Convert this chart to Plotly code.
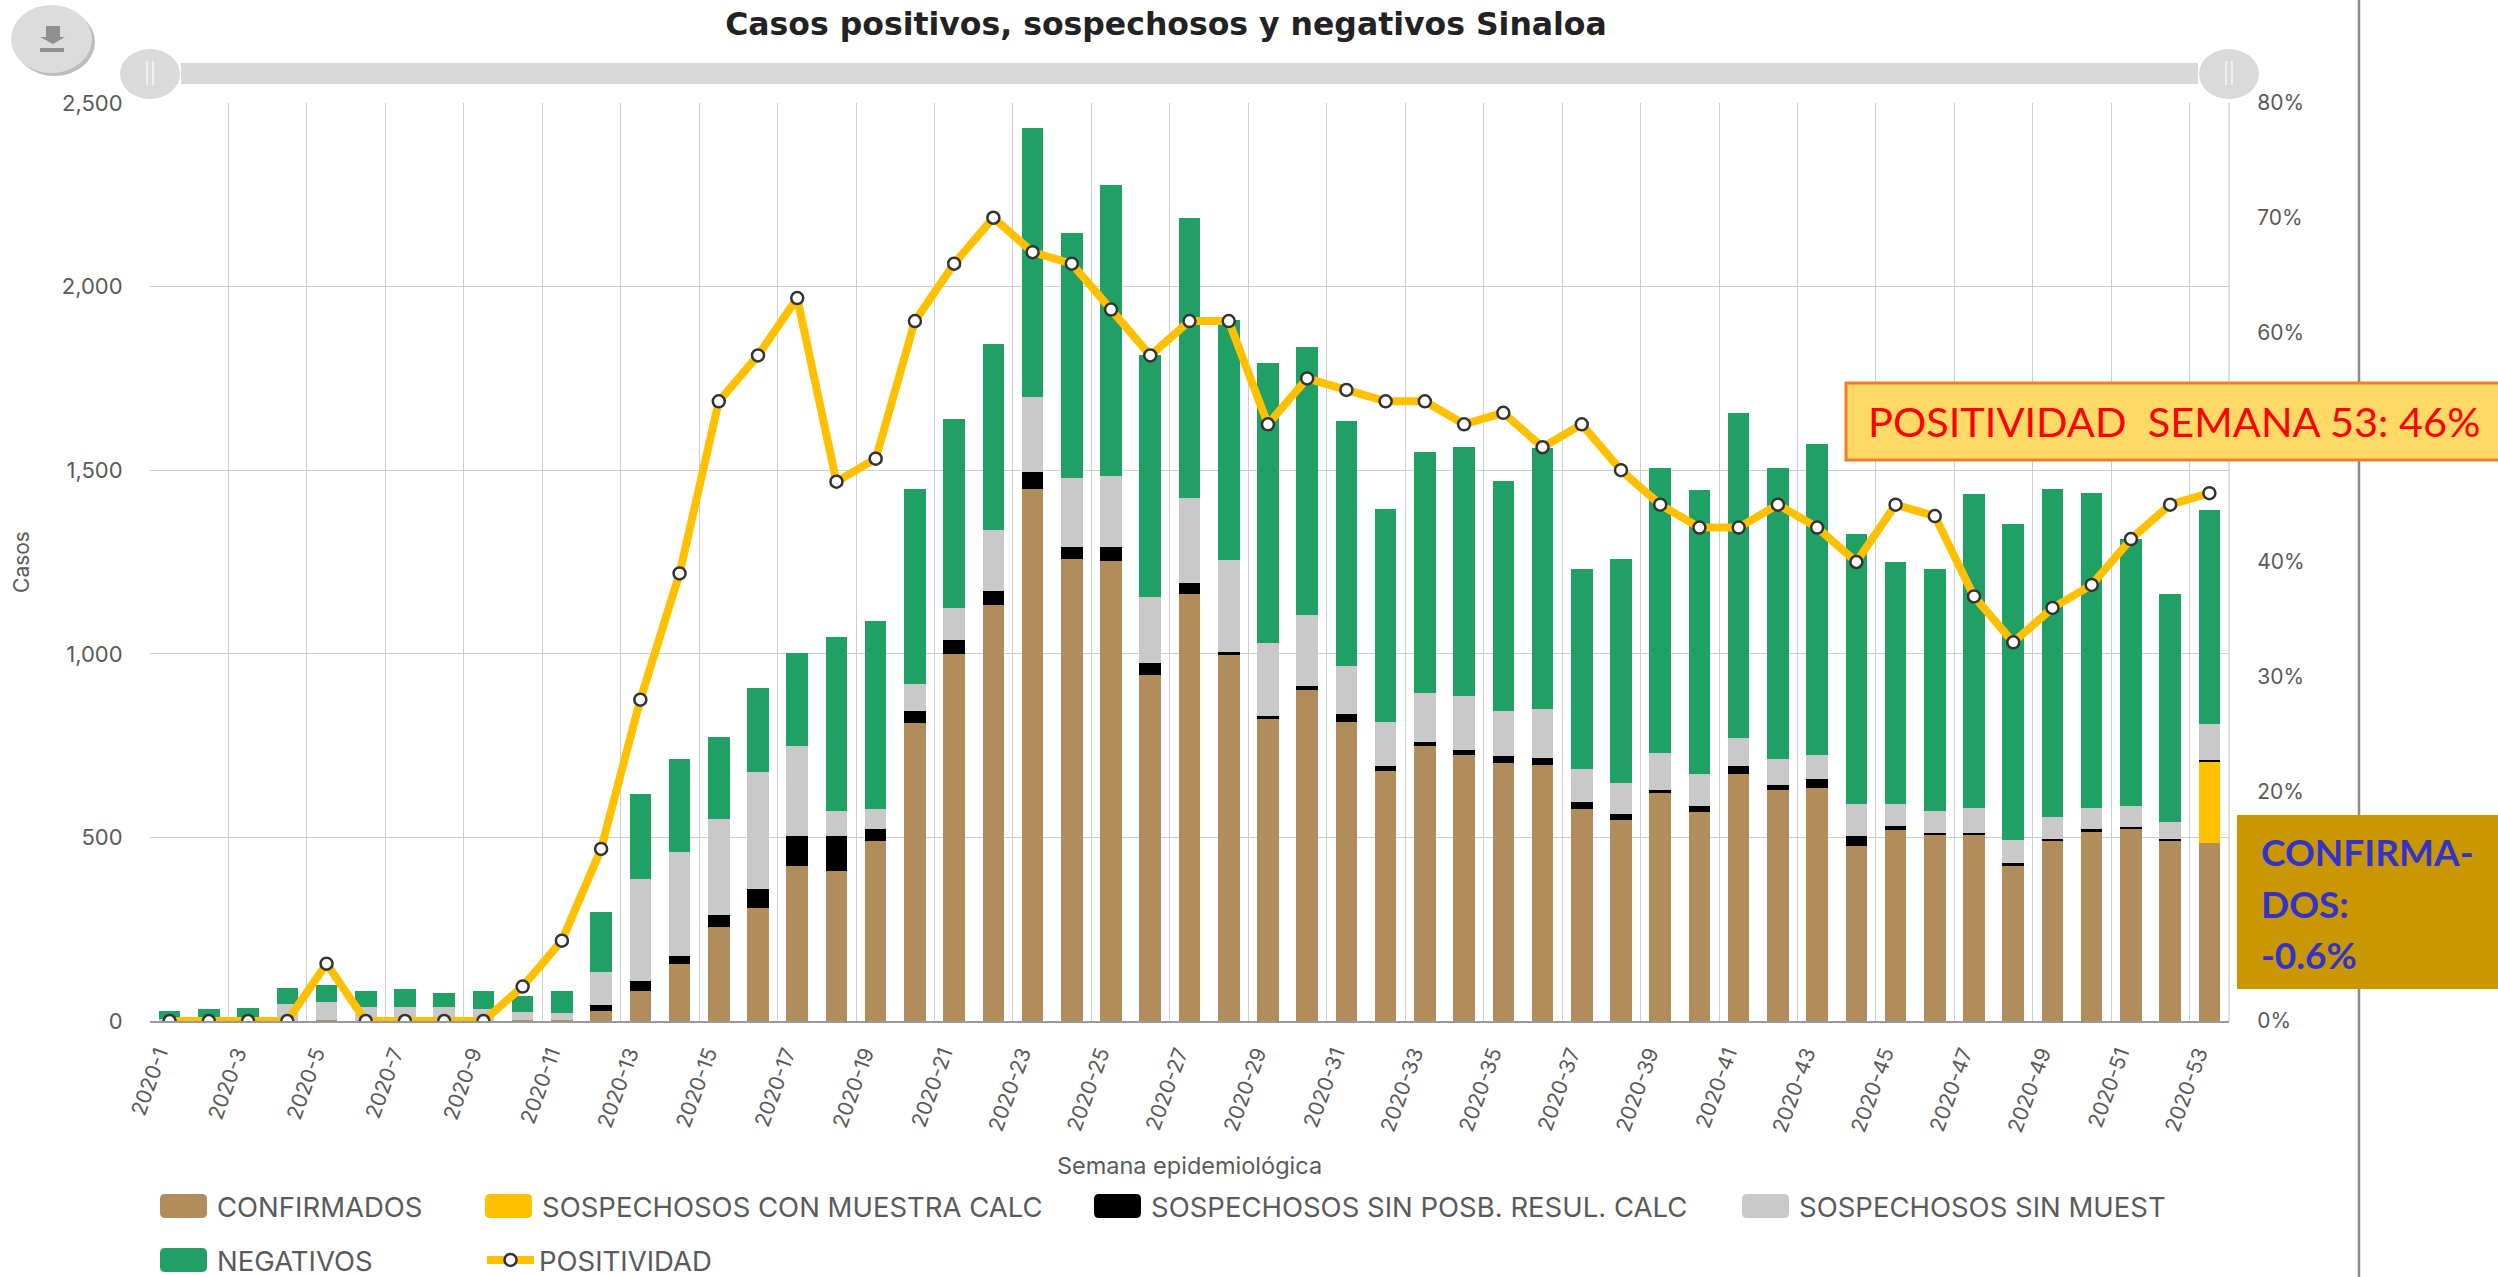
import plotly.graph_objects as go

weeks = [f"2020-{i}" for i in range(1, 54)]
confirmados = [0,0,0,0,3,0,0,0,0,3,4,27,82,155,257,308,422,409,489,812,1000,1133,1449,1258,1252,942,1164,997,822,901,814,682,748,724,702,697,578,548,620,570,673,630,634,477,521,506,506,423,489,516,522,490,485]
con_muestra = [0]*52 + [220]
sin_posb = [0,0,0,0,0,0,0,0,0,0,0,16,26,23,33,51,83,94,34,33,37,38,46,33,40,34,28,8,8,11,21,13,12,15,21,20,19,16,10,15,22,12,24,28,11,6,6,6,7,6,6,6,7]
sin_muest = [5,5,5,45,49,38,37,37,33,21,18,90,280,281,261,319,243,69,53,74,87,167,204,187,192,178,232,250,200,193,131,118,133,146,120,133,90,85,100,87,77,71,66,87,60,60,68,63,59,58,57,47,97]
negativos = [22,28,30,44,47,45,51,38,48,43,60,164,229,254,223,229,254,473,513,531,516,505,734,667,793,661,763,653,761,731,667,580,656,677,628,710,545,609,776,775,884,793,847,733,657,660,855,861,894,857,729,620,583]
positividad = [0,0,0,0,5,0,0,0,0,3,7,15,28,39,54,58,63,47,49,61,66,70,67,66,62,58,61,61,52,56,55,54,54,52,53,50,52,48,45,43,43,45,43,40,45,44,37,33,36,38,42,45,46]
pct_ticks = [0, 20, 30, 40, 60, 70, 80]
pct_labels = ["0%", "20%", "30%", "40%", "60%", "70%", "80%"]

C_CONF, C_YEL, C_BLK, C_GRY, C_NEG = "#B08D5B", "#FFC000", "#000000", "#C9C9C9", "#21A065"
W, H = 2498, 1277
L, R, T, B = 150, 2229, 103, 1021
FONT = "Inter"
NOTE = "Lato"
TXT = "#5A5A5A"

def px(x): return (x - L) / (R - L)
def py(y): return (B - y) / (B - T)

fig = go.Figure()
series = [("CONFIRMADOS", confirmados, C_CONF, "legend"),
          ("SOSPECHOSOS CON MUESTRA CALC", con_muestra, C_YEL, "legend2"),
          ("SOSPECHOSOS SIN POSB. RESUL. CALC", sin_posb, C_BLK, "legend3"),
          ("SOSPECHOSOS SIN MUEST", sin_muest, C_GRY, "legend4"),
          ("NEGATIVOS", negativos, C_NEG, "legend5")]
for name, vals, col, lg in series:
    fig.add_trace(go.Bar(x=weeks, y=vals, name=name, marker=dict(color=col, line=dict(width=0)), legend=lg))
fig.add_trace(go.Scatter(x=weeks, y=positividad, name="POSITIVIDAD", yaxis="y2", mode="lines+markers",
                         line=dict(color=C_YEL, width=8),
                         marker=dict(color="#FFFFFF", size=12, line=dict(color="#333333", width=2.5)),
                         legend="legend6"))

shapes = []
def rect(x0, y0, x1, y1, fill, line=None, lw=0):
    shapes.append(dict(type="rect", xref="paper", yref="paper", x0=px(x0), x1=px(x1), y0=py(y0), y1=py(y1),
                       fillcolor=fill, line=dict(color=line or fill, width=lw), layer="above"))
def ell(x0, y0, x1, y1, fill):
    shapes.append(dict(type="circle", xref="paper", yref="paper", x0=px(x0), x1=px(x1), y0=py(y0), y1=py(y1),
                       fillcolor=fill, line=dict(width=0), layer="above"))
def seg(x0, y0, x1, y1, col, w):
    shapes.append(dict(type="line", xref="paper", yref="paper", x0=px(x0), x1=px(x1), y0=py(y0), y1=py(y1),
                       line=dict(color=col, width=w), layer="above"))
def round_rect(x0, y0, x1, y1, r, fill):
    p = (f"M{px(x0+r)},{py(y0)} L{px(x1-r)},{py(y0)} Q{px(x1)},{py(y0)} {px(x1)},{py(y0+r)} "
         f"L{px(x1)},{py(y1-r)} Q{px(x1)},{py(y1)} {px(x1-r)},{py(y1)} L{px(x0+r)},{py(y1)} "
         f"Q{px(x0)},{py(y1)} {px(x0)},{py(y1-r)} L{px(x0)},{py(y0+r)} Q{px(x0)},{py(y0)} {px(x0+r)},{py(y0)} Z")
    shapes.append(dict(type="path", xref="paper", yref="paper", path=p, fillcolor=fill, line=dict(width=0), layer="above"))

seg(R, T, R, B, "#D4D4D4", 1.5)
seg(2359, 0, 2359, H, "#8C8C8C", 2.5)
rect(181, 63, 2198, 84, "#D9D9D9")
for cx in (L, R):
    ell(cx - 30, 49, cx + 30, 99, "#DADADA")
    seg(cx - 3, 61, cx - 3, 85, "#FFFFFF", 1.2)
    seg(cx + 3, 61, cx + 3, 85, "#FFFFFF", 1.2)
ell(14, 8, 95, 76, "#BDBDBD")
ell(11, 5, 92, 73, "#DCDCDC")
shapes.append(dict(type="path", xref="paper", yref="paper", fillcolor="#8F8F8F", line=dict(width=0), layer="above",
                   path=f"M{px(46)},{py(26)} L{px(60)},{py(26)} L{px(60)},{py(37)} L{px(65)},{py(37)} L{px(53)},{py(44)} "
                        f"L{px(40)},{py(37)} L{px(46)},{py(37)} Z"))
rect(40, 48, 64, 52, "#8F8F8F")
for (x0, yc, col) in [(160, 1206, C_CONF), (485, 1206, C_YEL), (1094, 1206, C_BLK), (1742, 1206, C_GRY), (160, 1260, C_NEG)]:
    round_rect(x0, yc - 12, x0 + 47, yc + 12, 5, col)
rect(1846, 383, 2500, 460, "#FFD966", "#ED7D31", 3)
rect(2237, 815, 2498, 989, "#C99700")

ann = [dict(text="POSITIVIDAD&nbsp;&nbsp;SEMANA 53: 46%", xref="paper", yref="paper", x=px(1866), y=py(421),
            xanchor="left", yanchor="middle", showarrow=False,
            font=dict(family=NOTE, size=41.5, color="#FF0000")),
       dict(text="<b>CONFIRMA-</b>", xref="paper", yref="paper", x=px(2259), y=py(851), xanchor="left", yanchor="middle",
            showarrow=False, font=dict(family=NOTE, size=37, color="#3333CC")),
       dict(text="<b>DOS:</b>", xref="paper", yref="paper", x=px(2259), y=py(903), xanchor="left", yanchor="middle",
            showarrow=False, font=dict(family=NOTE, size=37, color="#3333CC")),
       dict(text="<b>-0.6%</b>", xref="paper", yref="paper", x=px(2259), y=py(954), xanchor="left", yanchor="middle",
            showarrow=False, font=dict(family=NOTE, size=37, color="#3333CC"))]

def leg(x, y):
    return dict(xref="paper", yref="paper", x=px(x), y=py(y), xanchor="left", yanchor="middle",
                bgcolor="rgba(0,0,0,0)", borderwidth=0, itemwidth=47,
                font=dict(family=FONT, size=27.5, color=TXT), itemclick=False, itemdoubleclick=False)

fig.update_layout(
    width=W, height=H, autosize=False, paper_bgcolor="#FFFFFF", plot_bgcolor="#FFFFFF",
    margin=dict(l=L, r=W - R, t=T, b=H - B, pad=0, autoexpand=False),
    barmode="stack", bargap=0.45, showlegend=True,
    title=dict(text="<b>Casos positivos, sospechosos y negativos Sinaloa</b>", x=1166 / W, xanchor="center",
               xref="container", y=1 - 24 / H, yanchor="middle", yref="container",
               font=dict(family="DejaVu Sans", size=31.5, color="#222222")),
    font=dict(family=FONT, color=TXT),
    xaxis=dict(type="category", categoryorder="array", categoryarray=weeks, tickmode="linear", tick0=0, dtick=2,
               tickson="boundaries", tickangle=-70, showgrid=True, gridcolor="#CDCDCD", gridwidth=1.3,
               showline=True, linecolor="#999999", linewidth=2, ticks="outside", ticklen=32, tickcolor="rgba(0,0,0,0)",
               ticklabelshift=-11, ticklabelstandoff=10,
               tickfont=dict(family=FONT, size=21, color=TXT),
               title=dict(text="Semana epidemiológica", font=dict(family=FONT, size=23.5, color=TXT), standoff=23),
               range=[-0.5, 52.5], automargin=False),
    yaxis=dict(range=[0, 2500], tick0=0, dtick=500, tickformat=",d", showgrid=True, gridcolor="#CDCDCD", gridwidth=1.3,
               zeroline=False, ticks="outside", ticklen=22, tickcolor="rgba(0,0,0,0)",
               tickfont=dict(family=FONT, size=22, color=TXT),
               title=dict(text="Casos", font=dict(family=FONT, size=21, color=TXT), standoff=26), automargin=False),
    yaxis2=dict(overlaying="y", side="right", range=[0, 80], tickmode="array", tickvals=pct_ticks, ticktext=pct_labels,
                showgrid=False, zeroline=False,
                ticks="outside", ticklen=23, tickcolor="rgba(0,0,0,0)", tickfont=dict(family=FONT, size=21, color=TXT),
                automargin=False),
    legend=leg(160, 1206), legend2=leg(485, 1206), legend3=leg(1094, 1206), legend4=leg(1742, 1206),
    legend5=leg(160, 1260), legend6=leg(482, 1260),
    shapes=shapes, annotations=ann,
)
fig.write_html("out.html", post_script="document.body.style.margin='0';document.body.style.overflow='hidden';",
               config=dict(displayModeBar=False))
